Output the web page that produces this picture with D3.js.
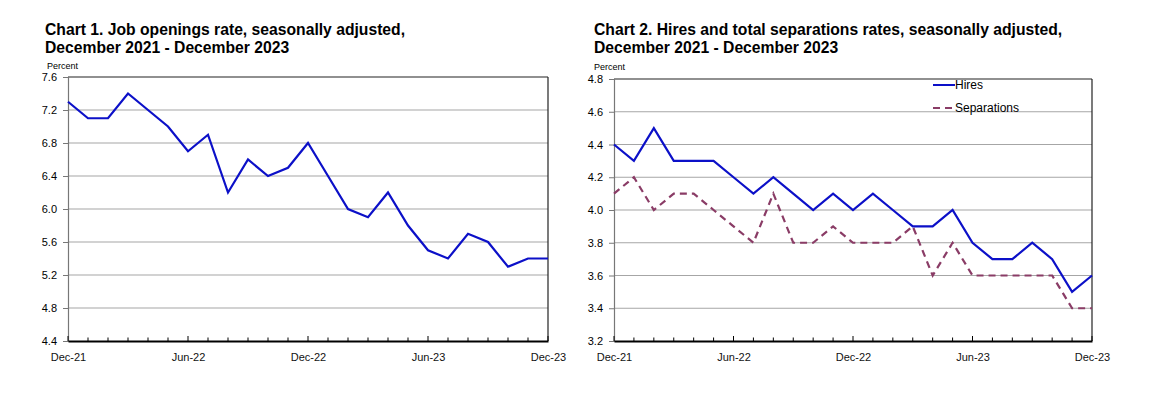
<!DOCTYPE html>
<html><head><meta charset="utf-8">
<script src="https://cdn.jsdelivr.net/npm/d3@7"></script>
<style>body{margin:0;background:#fff}svg{display:block}</style>
</head><body>
<svg id="c" width="1160" height="404"></svg>
<script>
const months = ["Dec-21","Jan-22","Feb-22","Mar-22","Apr-22","May-22","Jun-22","Jul-22","Aug-22","Sep-22","Oct-22","Nov-22","Dec-22","Jan-23","Feb-23","Mar-23","Apr-23","May-23","Jun-23","Jul-23","Aug-23","Sep-23","Oct-23","Nov-23","Dec-23"];
const tickLabels = ["Dec-21","Jun-22","Dec-22","Jun-23","Dec-23"];
const jobOpenings = [7.3,7.1,7.1,7.4,7.2,7.0,6.7,6.9,6.2,6.6,6.4,6.5,6.8,6.4,6.0,5.9,6.2,5.8,5.5,5.4,5.7,5.6,5.3,5.4,5.4];
const hires = [4.4,4.3,4.5,4.3,4.3,4.3,4.2,4.1,4.2,4.1,4.0,4.1,4.0,4.1,4.0,3.9,3.9,4.0,3.8,3.7,3.7,3.8,3.7,3.5,3.6];
const separations = [4.1,4.2,4.0,4.1,4.1,4.0,3.9,3.8,4.1,3.8,3.8,3.9,3.8,3.8,3.8,3.9,3.6,3.8,3.6,3.6,3.6,3.6,3.6,3.4,3.4];
const yTicks1 = [4.4,4.8,5.2,5.6,6.0,6.4,6.8,7.2,7.6];
const yTicks2 = [3.2,3.4,3.6,3.8,4.0,4.2,4.4,4.6,4.8];

const svg = d3.select("#c");
const SANS = "Liberation Sans, Arial, sans-serif";

function chart(cfg){
  const g = svg.append("g");
  const x = d3.scalePoint().domain(months).range([cfg.left, cfg.right]);
  const y = d3.scaleLinear().domain(cfg.domain).range([cfg.bottom, cfg.top]);
  cfg.title.forEach((t,i)=>{
    g.append("text").attr("x",cfg.tx).attr("y",35+i*17.5)
     .attr("font-family",SANS).attr("font-weight","bold")
     .attr("font-size",15.7).attr("fill","#000").text(t);
  });
  g.append("text").attr("x",cfg.px).attr("y",cfg.py)
   .attr("font-family",SANS).attr("font-size",9).attr("fill","#000").text("Percent");
  g.append("g").selectAll("line").data(cfg.yTicks.slice(1,-1)).join("line")
   .attr("x1",cfg.left).attr("x2",cfg.right).attr("y1",d=>y(d)).attr("y2",d=>y(d))
   .attr("stroke","#a6a6a6").attr("stroke-width",1.2);
  g.append("line").attr("x1",cfg.left).attr("x2",cfg.right).attr("y1",cfg.top).attr("y2",cfg.top).attr("stroke","#222").attr("stroke-width",1.2);
  g.append("line").attr("x1",cfg.right).attr("x2",cfg.right).attr("y1",cfg.top).attr("y2",cfg.bottom).attr("stroke","#222").attr("stroke-width",1.2);
  const ya = d3.axisLeft(y).tickValues(cfg.yTicks).tickFormat(d3.format(".1f")).tickSize(5).tickPadding(6);
  const yg = g.append("g").attr("transform",`translate(${cfg.left},0)`).call(ya);
  yg.select(".domain").attr("stroke","#777").attr("stroke-width",1.2);
  yg.selectAll(".tick line").attr("stroke","#777");
  yg.selectAll("text").attr("font-family",SANS).attr("font-size",11).attr("fill","#000");
  const xa = d3.axisBottom(x).tickValues(tickLabels).tickSize(0).tickPadding(12);
  const xg = g.append("g").attr("transform",`translate(0,${cfg.bottom})`).call(xa);
  xg.select(".domain").attr("stroke","#000").attr("stroke-width",1.8);
  xg.selectAll("text").attr("font-family",SANS).attr("font-size",11).attr("fill","#111");
  g.append("g").selectAll("line").data(months).join("line")
   .attr("x1",d=>x(d)).attr("x2",d=>x(d)).attr("y1",cfg.bottom)
   .attr("y2",d=>cfg.bottom-(tickLabels.includes(d)?5:3.5))
   .attr("stroke","#000").attr("stroke-width",1);
  const line = d3.line().x((d,i)=>x(months[i])).y(d=>y(d));
  cfg.series.forEach(s=>{
    g.append("path").datum(s.values).attr("d",line).attr("fill","none")
     .attr("stroke",s.color).attr("stroke-width",2.2).attr("stroke-dasharray",s.dash||null)
     .attr("stroke-linejoin","miter");
  });
  return {g,x,y};
}

chart({left:68,right:548,top:77,bottom:341,domain:[4.4,7.6],yTicks:yTicks1,tx:45,px:47,py:69,
  title:["Chart 1. Job openings rate, seasonally adjusted,","December 2021 - December 2023"],
  series:[{values:jobOpenings,color:"#0c10c8"}]});

const c2 = chart({left:614,right:1092,top:79,bottom:341,domain:[3.2,4.8],yTicks:yTicks2,tx:594,px:594,py:69.5,
  title:["Chart 2. Hires and total separations rates, seasonally adjusted,","December 2021 - December 2023"],
  series:[{values:separations,color:"#8a3c66",dash:"7,5"},{values:hires,color:"#0c10c8"}]});

const legend = [{name:"Hires",color:"#0c10c8",dash:null,y:85},{name:"Separations",color:"#8a3c66",dash:"7,5",y:108}];
const lg = c2.g.append("g");
legend.forEach(l=>{
  lg.append("line").attr("x1",933).attr("x2",955).attr("y1",l.y).attr("y2",l.y)
    .attr("stroke",l.color).attr("stroke-width",2).attr("stroke-dasharray",l.dash);
  lg.append("text").attr("x",955).attr("y",l.y+4).attr("font-family",SANS)
    .attr("font-size",12).attr("fill","#000").text(l.name);
});
</script>
</body></html>
